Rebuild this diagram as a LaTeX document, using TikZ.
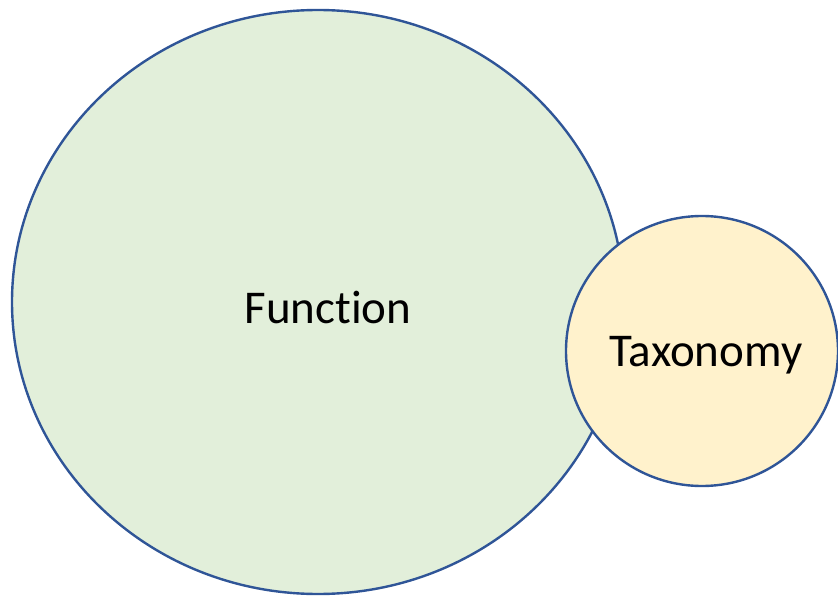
\documentclass[tikz,border=0pt]{standalone}
\usepackage{fontspec}
\setmainfont{Carlito}[Ligatures={NoCommon}]
\usetikzlibrary{shapes.geometric}

\definecolor{bubbleline}{HTML}{2F5597}
\definecolor{funcgreen}{HTML}{E2EFDA}
\definecolor{taxyellow}{HTML}{FFF2CC}

\tikzset{
  bubble/.style={ellipse, draw=bubbleline, line width=2.4pt, inner sep=0pt},
  bubbletext/.style={font=\fontsize{47}{52}\selectfont, inner sep=0pt}
}

\begin{document}
\begin{tikzpicture}[x=1pt,y=-1pt]
            \useasboundingbox (0,0) rectangle (838,596);

            \node[bubble, fill=funcgreen, minimum width=612pt, minimum height=584pt] (FunctionBubble) at (318,302) {};
            \node[bubble, fill=taxyellow, minimum width=272pt, minimum height=270pt] (TaxonomyBubble) at (702,351) {};

            \node[bubbletext] (Function) at (328,308) {Function};
            \node[bubbletext] (Taxonomy) at (706,355) {Taxonomy};
        \end{tikzpicture}
\end{document}
